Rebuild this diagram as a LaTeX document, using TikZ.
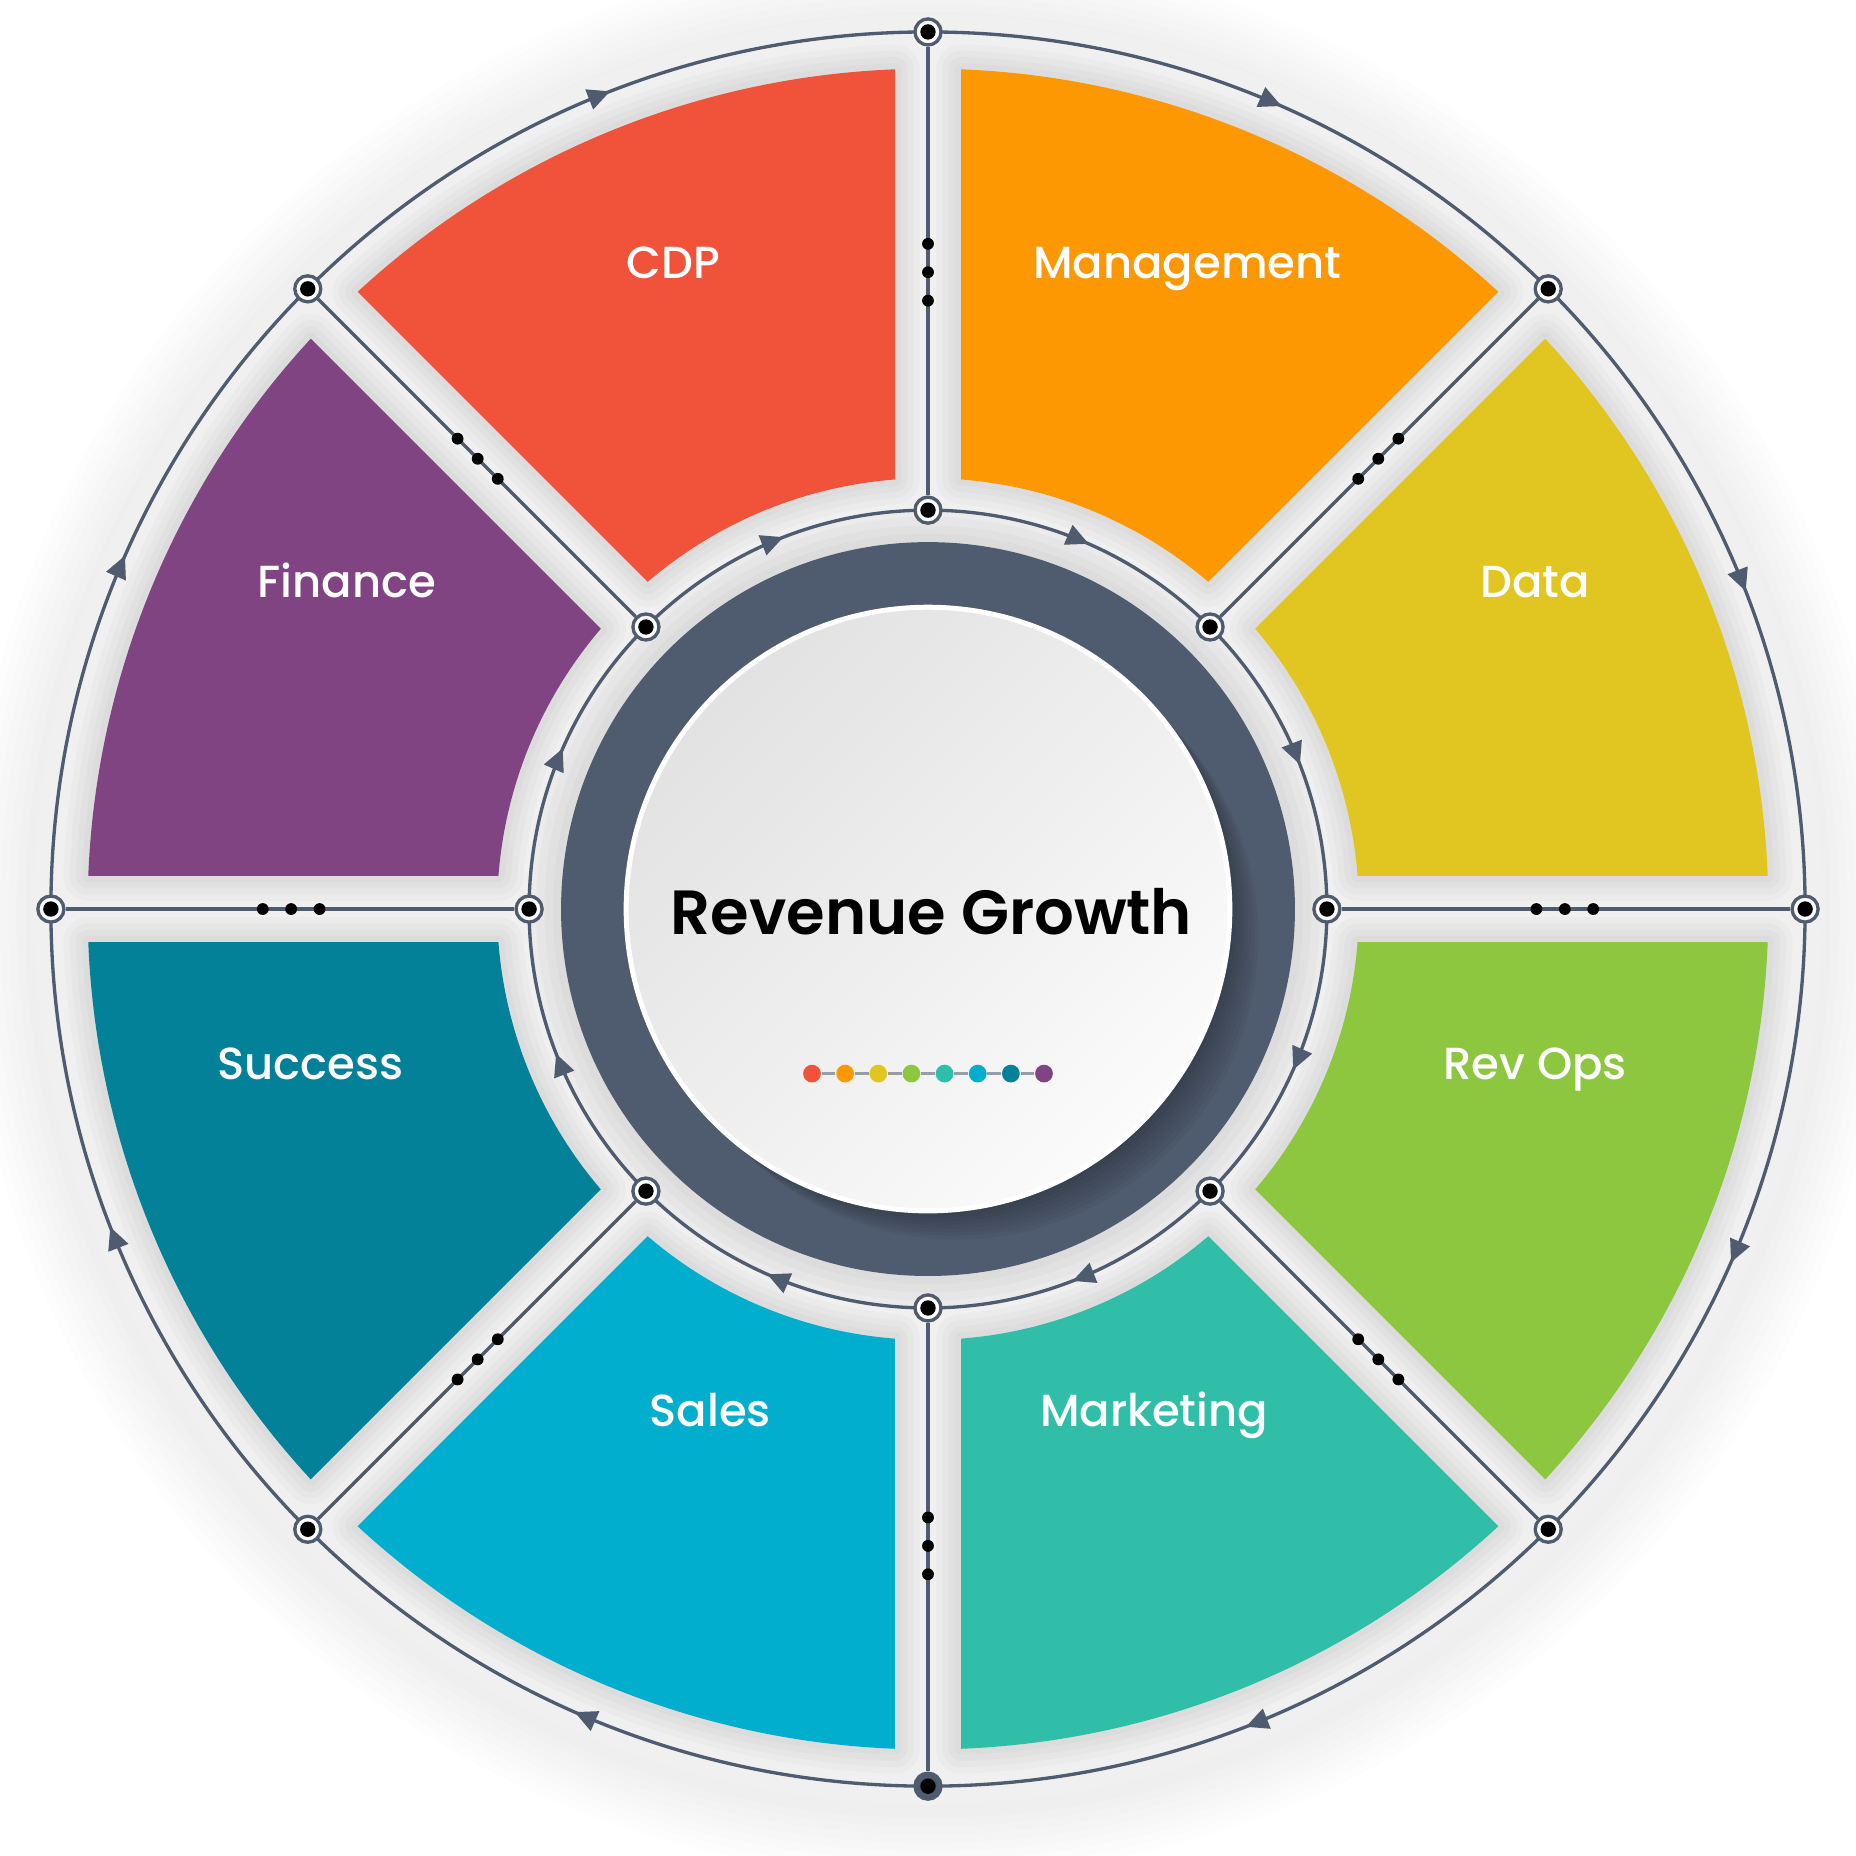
\documentclass[tikz,border=0pt]{standalone}
\usepackage{fontspec}
\setmainfont{Poppins}[UprightFont=* Medium, BoldFont=* SemiBold]
\usetikzlibrary{arrows.meta,decorations.markings}
\definecolor{slate}{RGB}{79,91,110}
\definecolor{ringgray}{RGB}{240,240,240}
\definecolor{cdp}{RGB}{240,83,58}
\definecolor{mgmt}{RGB}{254,152,2}
\definecolor{datayellow}{RGB}{225,198,33}
\definecolor{revops}{RGB}{141,198,63}
\definecolor{mkt}{RGB}{48,190,168}
\definecolor{sales}{RGB}{2,174,205}
\definecolor{success}{RGB}{2,129,152}
\definecolor{finance}{RGB}{128,68,131}
\definecolor{diskdark}{RGB}{226,226,226}
\definecolor{disklight}{RGB}{251,251,251}
\tikzset{>={Triangle[length=5.4pt,width=5pt]}}
\tikzset{
  clockwise arrows/.style={
    postaction={
      decorate,
      decoration={
        markings,
        mark=between positions 0.066 and 1 step 0.125 with {\arrow[slate]{>}},
   }}}}
\tikzset{
  hub/.style={circle, draw=slate, line width=0.8pt, fill=white, minimum size=0.22cm, inner sep=0pt,
    path picture={\fill[black] (path picture bounding box.center) circle (0.065);}},
  hubdark/.style={hub, fill=slate},
  wire/.style={draw=slate, line width=0.8pt},
  tag/.style={text=white, anchor=base, font=\fontsize{10.8}{13}\selectfont},
  bead/.style={circle, minimum size=0.15cm, inner sep=0pt},
}
\newcommand{\sectorpath}[1]{(#1+2.26:7.10) arc[start angle=#1+2.26, end angle=#1+42.74, radius=7.10] -- (#1+40.59:3.64) arc[start angle=#1+40.59, end angle=#1+4.41, radius=3.64] -- cycle}

\begin{document}
\begin{tikzpicture}
    \useasboundingbox (-7.84,-8.00) rectangle (7.84,7.68);
    % soft halo and plate
    \foreach \i in {1,...,8}
        \fill[black, opacity=0.007] (0,-0.05) circle ({7.56+0.07*\i});
    \fill[ringgray] (0,0) circle (7.56);
    % coloured sectors
    \foreach \a/\col in {90/cdp,45/mgmt,0/datayellow,-45/revops,-90/mkt,-135/sales,180/success,135/finance}{
        \foreach \w in {3,6,9,12}
            \draw[black, opacity=0.02, line width=\w pt, line join=round] \sectorpath{\a};
        \fill[\col] \sectorpath{\a};
    }
    % hub ring and disk
    \foreach \w in {4,8,12,16}
        \draw[black, opacity=0.02, line width=\w pt] (0,0) circle (3.10);
    \fill[slate] (0,0) circle (3.10);
    \foreach \i in {1,...,8}
        \fill[black, opacity=0.035] ({0.03*\i},{-0.03*\i}) circle (2.55);
    \shade[top color=diskdark, bottom color=disklight, shading angle=45] (0,0) circle (2.55);
    \draw[white, line width=1.2pt] (0,0) circle (2.55);
    % tracks
    \draw[wire, clockwise arrows] (90:7.41) arc[start angle=90, end angle=-270, radius=7.41];
    \draw[wire, clockwise arrows] (90:3.37) arc[start angle=90, end angle=-270, radius=3.37];
    % hubs and spokes
    \foreach \a/\sty [count=\i] in {90/hub,45/hub,0/hub,-45/hub,-90/hubdark,-135/hub,180/hub,135/hub}{
        \node[hub] (m\i) at (\a:3.37) {};
        \node[\sty] (o\i) at (\a:7.41) {};
        \draw[wire] (m\i) -- (o\i);
        \foreach \r in {5.14,5.38,5.62}
            \fill[black] (\a:\r) circle (0.05);
    }
    % labels
    \node[tag] (cdptext) at (-2.15,5.33) {CDP};
    \node[tag] (mgmttext) at (2.19,5.33) {Management};
    \node[tag] (datatext) at (5.13,2.63) {Data};
    \node[tag] (revopstext) at (5.13,-1.44) {Rev Ops};
    \node[tag] (mkttext) at (1.91,-4.37) {Marketing};
    \node[tag] (salestext) at (-1.84,-4.37) {Sales};
    \node[tag] (successtext) at (-5.22,-1.44) {Success};
    \node[tag] (financetext) at (-4.91,2.63) {Finance};
    \node[font=\bfseries\fontsize{15}{18}\selectfont] (title) at (0.03,-0.02) {Revenue Growth};
    % bead row
    \foreach \col [count=\i from 0] in {cdp,mgmt,datayellow,revops,mkt,sales,success,finance}
        \node[bead, fill=\col] (b\i) at ({-0.98+0.28*\i},-1.39) {};
    \foreach \i [evaluate=\i as \j using int(\i+1)] in {0,...,6}
        \draw[slate!60, line width=0.6pt] (b\i) -- (b\j);
\end{tikzpicture}
\end{document}
